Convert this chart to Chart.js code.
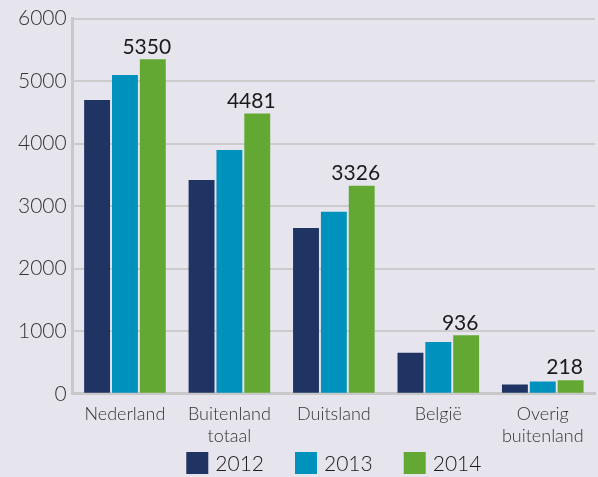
<!DOCTYPE html>
<html>
<head>
<meta charset="utf-8">
<script src="https://cdn.jsdelivr.net/npm/chart.js@4"></script>
<style>
  html, body { margin: 0; padding: 0; background: #e6e5ee; }
  #wrap { width: 598px; height: 477px; }
</style>
</head>
<body>
<div id="wrap"><canvas id="chart" width="598" height="477"></canvas></div>
<script>
// waarden
var categories = ["Nederland", ["Buitenland", "totaal"], "Duitsland", "België", ["Overig", "buitenland"]];
var years = ["2012", "2013", "2014"];
var values2012 = [4700, 3420, 2650, 655, 150];
var values2013 = [5100, 3900, 2910, 830, 195];
var values2014 = [5350, 4481, 3326, 936, 218];
var colors = ["#1f3462", "#0091bd", "#63a832"];

var fontFam = "Lato, 'Open Sans', sans-serif";

// labels boven de 2014 staven
var topLabels = {
  id: 'topLabels',
  afterDatasetsDraw: function(chart) {
    var ctx = chart.ctx;
    var meta = chart.getDatasetMeta(2);
    ctx.save();
    ctx.font = "21px " + fontFam;
    ctx.fillStyle = "#1a1a1a";
    ctx.textAlign = "center";
    ctx.textBaseline = "bottom";
    meta.data.forEach(function(bar, i) {
      ctx.fillText(values2014[i], bar.x - 6, bar.y - 2);
    });
    ctx.restore();
  }
};

// eigen legenda onderaan (ruimere afstand dan de standaard legenda)
var bottomLegend = {
  id: 'bottomLegend',
  afterDraw: function(chart) {
    var ctx = chart.ctx;
    var box = 22, gapText = 7, gapItem = 31;
    ctx.save();
    ctx.font = "300 21px " + fontFam;
    var widths = chart.data.datasets.map(function(ds) { return box + gapText + ctx.measureText(ds.label).width; });
    var total = widths.reduce(function(a, b) { return a + b; }, 0) + gapItem * (widths.length - 1);
    var x = (chart.chartArea.left + chart.chartArea.right) / 2 - total / 2;
    var y = 452;
    ctx.textBaseline = "middle";
    ctx.textAlign = "left";
    chart.data.datasets.forEach(function(ds, i) {
      ctx.fillStyle = ds.backgroundColor;
      ctx.fillRect(x, y, box, box);
      ctx.fillStyle = "#1a1a1a";
      ctx.fillText(ds.label, x + box + gapText, y + box / 2 + 1);
      x += widths[i] + gapItem;
    });
    ctx.restore();
  }
};

new Chart(document.getElementById("chart"), {
  type: 'bar',
  data: {
    labels: categories,
    datasets: [
      { label: years[0], data: values2012, backgroundColor: colors[0] },
      { label: years[1], data: values2013, backgroundColor: colors[1] },
      { label: years[2], data: values2014, backgroundColor: colors[2] }
    ]
  },
  options: {
    responsive: false,
    animation: false,
    layout: { padding: { left: 12, right: 3, top: 12, bottom: 28 } },
    datasets: { bar: { categoryPercentage: 0.8, barPercentage: 0.93 } },
    plugins: {
      legend: { display: false },
      tooltip: { enabled: false }
    },
    scales: {
      x: {
        grid: { display: false },
        border: { color: "#c8c8c8", width: 3 },
        ticks: { color: "#333", font: { size: 18, family: fontFam, weight: '300' }, maxRotation: 0, padding: 2 }
      },
      y: {
        min: 0, max: 6000,
        ticks: {
          stepSize: 1000, color: "#333", font: { size: 21, family: fontFam, weight: '300' }, padding: 6,
          callback: function(v) { return String(v); }
        },
        grid: { color: "#cccccc", lineWidth: 2, drawTicks: false },
        border: { color: "#c8c8c8", width: 3 }
      }
    }
  },
  plugins: [topLabels, bottomLegend]
});
</script>
</body>
</html>
